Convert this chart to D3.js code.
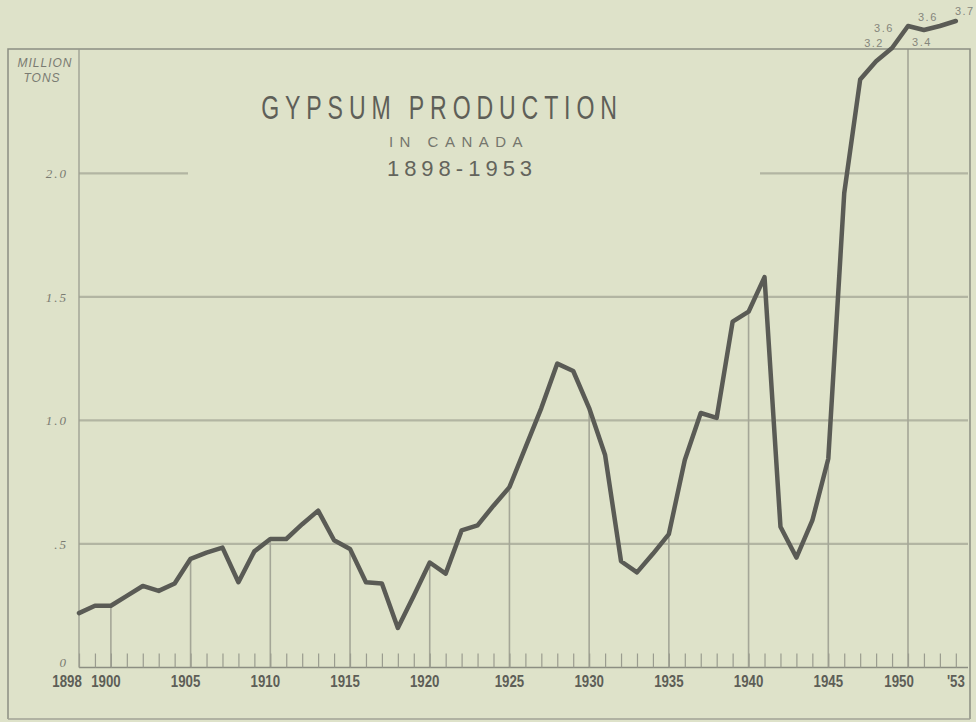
<!DOCTYPE html>
<html>
<head>
<meta charset="utf-8">
<script src="https://cdn.jsdelivr.net/npm/d3@7"></script>
<style>
  body { margin: 0; background: #dee2c9; }
  svg { display: block; }
</style>
</head>
<body>
<div id="chart"></div>
<script>
// production, million tons, 1898-1953
var years = d3.range(1898, 1954);
var production = [
    0.22, 0.25, 0.25, 0.29, 0.33, 0.31, 0.34, 0.44, 0.465, 0.485,
    0.345, 0.47, 0.52, 0.52, 0.58, 0.635, 0.515, 0.48, 0.345, 0.34,
    0.16, 0.29, 0.425, 0.38, 0.555, 0.575, 0.655, 0.73, 0.89, 1.05,
    1.23, 1.20, 1.05, 0.86, 0.43, 0.385, 0.46, 0.54, 0.84, 1.03,
    1.01, 1.40, 1.44, 1.58, 0.57, 0.445, 0.595, 0.845, 1.92, 2.38,
    2.8, 3.2, 3.6, 3.4, 3.6, 3.7
];
var labelledYears = [1949, 1950, 1951, 1952, 1953];

var xTickYears = [1898, 1900, 1905, 1910, 1915, 1920, 1925, 1930, 1935, 1940, 1945, 1950, 1953];
var xTickLabels = ["1898", "1900", "1905", "1910", "1915", "1920", "1925", "1930", "1935", "1940", "1945", "1950", "'53"];
var yTickValues = [0, 0.5, 1.0, 1.5, 2.0];
var yTickLabels = ["0", ".5", "1.0", "1.5", "2.0"];
var dropYears = [1900, 1905, 1910, 1915, 1920, 1925, 1930, 1935, 1940, 1945, 1950];

var data = years.map((yr, i) => ({ year: yr, value: production[i] }));

var svgWidth = 976, svgHeight = 722;
var frame = { left: 8, top: 49, right: 970, bottom: 719 };
var plotLeft = 79, plotRight = 968;

var svg = d3.select("#chart")
    .append("svg")
    .attr("width", svgWidth)
    .attr("height", svgHeight);

var x = d3.scaleLinear()
    .domain([1898, 1950])
    .range([79, 908]);

// scale is linear to 2.4, then squeezed above the frame (broken scale)
var y = d3.scaleLinear()
    .domain([0, 2.4, 3.2, 3.4, 3.6, 3.7])
    .range([667.5, 74.5, 48, 30, 26, 21]);

var gridColor = "#b2b5a2";
var inkColor = "#5a5b55";

/// horizontal grid lines (2.0 is broken by the title)
var hGrid = svg.append("g");
yTickValues.filter(v => v > 0 && v < 2).forEach(v => {
    hGrid.append("line")
        .attr("x1", plotLeft).attr("x2", plotRight)
        .attr("y1", y(v)).attr("y2", y(v))
        .attr("stroke", gridColor).attr("stroke-width", 2.2);
});
[[plotLeft, 188], [760, plotRight]].forEach(seg => {
    hGrid.append("line")
        .attr("x1", seg[0]).attr("x2", seg[1])
        .attr("y1", y(2)).attr("y2", y(2))
        .attr("stroke", gridColor).attr("stroke-width", 2.2);
});

/// vertical drop lines up to the curve
svg.append("g").selectAll("line")
    .data(data.filter(d => dropYears.includes(d.year)))
    .join("line")
    .attr("x1", d => x(d.year)).attr("x2", d => x(d.year))
    .attr("y1", y(0))
    .attr("y2", d => Math.max(y(d.value), frame.top))
    .attr("stroke", "#a4a697").attr("stroke-width", 1.6);

/// frame
var frameG = svg.append("g").attr("fill", "none").attr("stroke", "#8c8e82").attr("stroke-width", 1.5);
frameG.append("path")
    .attr("d", `M${frame.left},${frame.bottom} L${frame.left},${frame.top} L${frame.right},${frame.top} L${frame.right},${frame.bottom}`);
frameG.append("line")
    .attr("x1", frame.left).attr("x2", frame.right)
    .attr("y1", frame.bottom).attr("y2", frame.bottom)
    .attr("stroke", "#a0a295");
frameG.append("line")
    .attr("x1", plotLeft).attr("x2", plotLeft)
    .attr("y1", frame.top).attr("y2", y(0))
    .attr("stroke", "#9a9c90").attr("stroke-width", 1.3);

/// x axis: yearly ticks + labels
var xMinor = d3.axisBottom(x)
    .tickValues(years)
    .tickSize(-14)
    .tickFormat("");
svg.append("g")
    .attr("transform", `translate(0, ${y(0)})`)
    .call(xMinor)
    .call(g => g.select(".domain").attr("stroke", "#8c8e82").attr("stroke-width", 1.3)
        .attr("d", `M${plotLeft},0H${plotRight}`))
    .call(g => g.selectAll(".tick line").attr("stroke", "#9a9c8f").attr("stroke-width", 1.2));

var xAxis = d3.axisBottom(x)
    .tickValues(xTickYears)
    .tickSize(0)
    .tickPadding(7)
    .tickFormat((d, i) => xTickLabels[i]);
svg.append("g")
    .attr("transform", `translate(0, ${y(0)})`)
    .call(xAxis)
    .call(g => g.select(".domain").remove())
    .call(g => g.selectAll(".tick")
        .attr("transform", d => {
            var shift = d === 1898 ? -12 : (d < 1925 ? -5 : (d === 1950 ? -9 : 0));
            return `translate(${x(d) + shift},0)`;
        }))
    .call(g => g.selectAll("text")
        .attr("fill", "#5d5e57")
        .attr("transform", "scale(0.78,1)")
        .style("font-family", "'Liberation Sans', sans-serif")
        .style("font-size", "17px")
        .style("font-weight", "bold"));

/// y axis labels
var yAxis = d3.axisLeft(y)
    .tickValues(yTickValues)
    .tickSize(0)
    .tickPadding(11)
    .tickFormat((d, i) => yTickLabels[i]);
svg.append("g")
    .attr("transform", `translate(${plotLeft}, 0)`)
    .call(yAxis)
    .call(g => g.select(".domain").remove())
    .call(g => g.selectAll("text")
        .attr("fill", "#7a7b72")
        .attr("dy", d => d === 0 ? "-0.1em" : "0.32em")
        .style("font-family", "'Liberation Serif', serif")
        .style("font-style", "italic")
        .style("font-size", "13px")
        .style("letter-spacing", "2px"));

svg.append("text")
    .attr("x", 45).attr("y", 67)
    .attr("text-anchor", "middle")
    .attr("fill", "#7a7b72")
    .style("font-family", "'Liberation Sans', sans-serif")
    .style("font-style", "italic")
    .style("font-size", "12px")
    .style("letter-spacing", "1px")
    .text("MILLION");
svg.append("text")
    .attr("x", 42).attr("y", 82)
    .attr("text-anchor", "middle")
    .attr("fill", "#7a7b72")
    .style("font-family", "'Liberation Sans', sans-serif")
    .style("font-style", "italic")
    .style("font-size", "12px")
    .style("letter-spacing", "1px")
    .text("TONS");

/// title (narrow, widely spaced capitals)
svg.append("g")
    .attr("transform", "translate(442,119) scale(0.69,1)")
    .append("text")
    .attr("text-anchor", "middle")
    .attr("fill", "#5e5f58")
    .style("font-family", "'Liberation Sans', sans-serif")
    .style("font-size", "33.5px")
    .style("letter-spacing", "8.5px")
    .text("GYPSUM PRODUCTION");
svg.append("text")
    .attr("x", 459).attr("y", 147)
    .attr("text-anchor", "middle")
    .attr("fill", "#75766d")
    .style("font-family", "'Liberation Sans', sans-serif")
    .style("font-size", "15px")
    .style("letter-spacing", "6.5px")
    .text("IN CANADA");
svg.append("text")
    .attr("x", 462).attr("y", 176)
    .attr("text-anchor", "middle")
    .attr("fill", "#63645c")
    .style("font-family", "'Liberation Sans', sans-serif")
    .style("font-size", "22px")
    .style("letter-spacing", "5px")
    .text("1898-1953");

/// production line
var line = d3.line()
    .x(d => x(d.year))
    .y(d => y(d.value));

svg.append("path")
    .datum(data)
    .attr("d", line)
    .attr("fill", "none")
    .attr("stroke", inkColor)
    .attr("stroke-width", 4.5)
    .attr("stroke-linejoin", "round")
    .attr("stroke-linecap", "round");

/// value labels above the frame
var labelOffset = {
    1949: [-18, -1], 1950: [-24, 6], 1951: [-2, 16], 1952: [-12, -5], 1953: [9, -6]
};
svg.append("g").selectAll("text")
    .data(data.filter(d => labelledYears.includes(d.year)))
    .join("text")
    .attr("x", d => x(d.year) + labelOffset[d.year][0])
    .attr("y", d => y(d.value) + labelOffset[d.year][1])
    .attr("text-anchor", "middle")
    .attr("fill", "#85867c")
    .style("font-family", "'Liberation Sans', sans-serif")
    .style("font-size", "11px")
    .style("letter-spacing", "1.5px")
    .text(d => d3.format(".1f")(d.value));
</script>
</body>
</html>
